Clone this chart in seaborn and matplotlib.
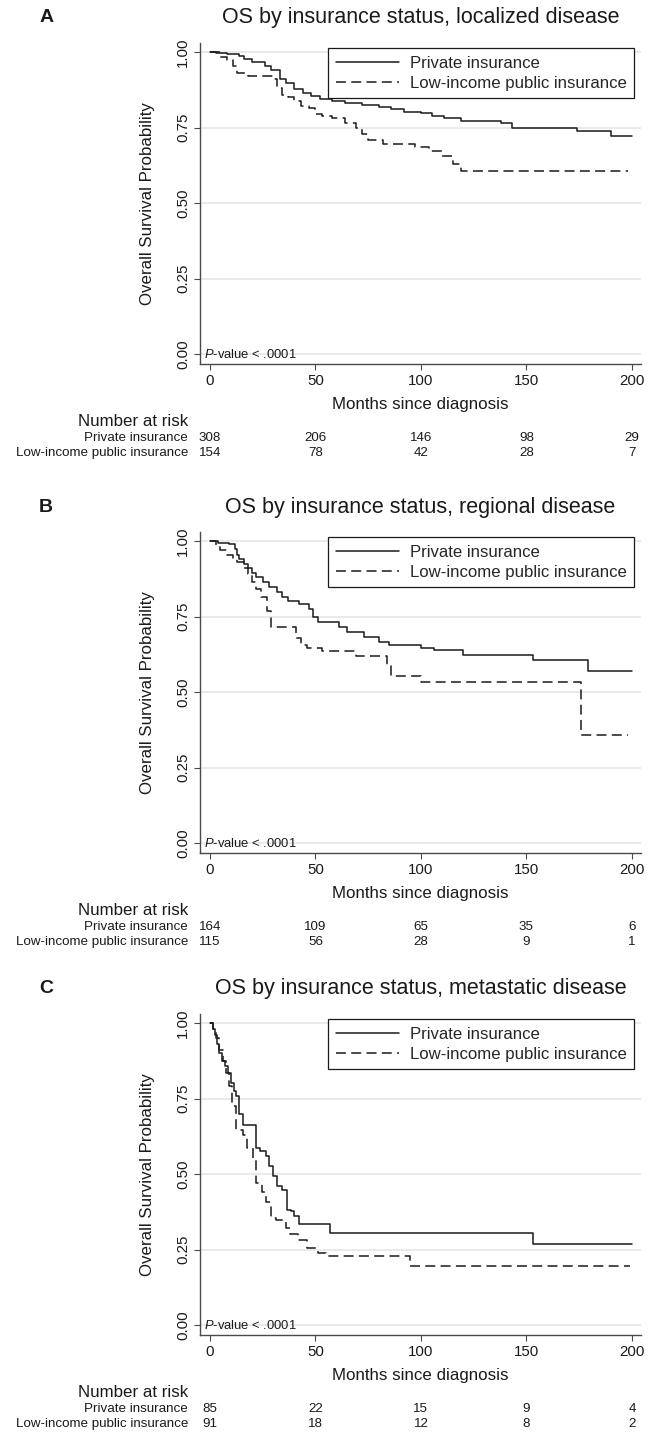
import numpy as np
import pandas as pd
import matplotlib.pyplot as plt
import seaborn as sns
from matplotlib.lines import Line2D
from matplotlib.transforms import blended_transform_factory

# ------------------------------------------------------------
# DATA
# ------------------------------------------------------------

GROUPS = ["Private insurance", "Low-income public insurance"]
PANELS = ["A", "B", "C"]
TITLES = [
    "OS by insurance status, localized disease",
    "OS by insurance status, regional disease",
    "OS by insurance status, metastatic disease",
]
RISK_MONTHS = [0, 50, 100, 150, 200]

# localized
a_priv_t = [0, 3, 8, 14, 16, 20, 26, 29, 33, 36, 40, 44, 48, 52, 58, 64, 72, 80, 86,
            92, 100, 105, 111, 119, 138, 143, 174, 190, 200]
a_priv_s = [1.0, 0.998, 0.993, 0.987, 0.976, 0.967, 0.955, 0.942, 0.912, 0.898, 0.878,
            0.864, 0.853, 0.843, 0.837, 0.831, 0.826, 0.817, 0.81, 0.802, 0.797, 0.788,
            0.781, 0.772, 0.766, 0.75, 0.738, 0.723, 0.723]
a_low_t = [0, 5, 8, 11, 13, 18, 30, 32, 34, 37, 40, 43, 47, 50, 53, 58, 64, 69, 72, 75,
           82, 97, 104, 110, 115, 119, 198]
a_low_s = [1.0, 0.985, 0.975, 0.955, 0.93, 0.922, 0.91, 0.88, 0.857, 0.85, 0.837, 0.822,
           0.814, 0.795, 0.787, 0.78, 0.765, 0.75, 0.727, 0.71, 0.697, 0.687, 0.673,
           0.655, 0.628, 0.605, 0.605]
a_risk_priv = [308, 206, 146, 98, 29]
a_risk_low = [154, 78, 42, 28, 7]

# regional
b_priv_t = [0, 4, 9, 12, 13, 14, 16, 18, 20, 22, 25, 28, 32, 34, 37, 42, 47, 49, 51,
            61, 65, 73, 80, 85, 100, 106, 120, 153, 179, 200]
b_priv_s = [1.0, 0.995, 0.99, 0.975, 0.955, 0.94, 0.925, 0.91, 0.895, 0.88, 0.865, 0.847,
            0.83, 0.814, 0.803, 0.792, 0.775, 0.75, 0.731, 0.715, 0.698, 0.682, 0.665,
            0.656, 0.645, 0.638, 0.624, 0.607, 0.569, 0.569]
b_low_t = [0, 3, 5, 8, 11, 13, 16, 18, 20, 22, 24, 27, 29, 41, 43, 46, 53, 69, 84, 86,
           100, 176, 198]
b_low_s = [1.0, 0.985, 0.97, 0.955, 0.94, 0.93, 0.91, 0.89, 0.865, 0.84, 0.814, 0.77,
           0.717, 0.68, 0.655, 0.646, 0.635, 0.62, 0.585, 0.553, 0.535, 0.359, 0.359]
b_risk_priv = [164, 109, 65, 35, 6]
b_risk_low = [115, 56, 28, 9, 1]

# metastatic
c_priv_t = [0, 1.5, 2.5, 3.5, 4.5, 5.5, 7, 8.5, 10, 11.5, 12.5, 14, 15.5, 22, 23.5, 26.5,
            28, 30, 32, 34, 36.5, 38.5, 40, 42, 57, 153, 200]
c_priv_s = [1.0, 0.98, 0.96, 0.93, 0.9, 0.875, 0.857, 0.835, 0.8, 0.775, 0.758, 0.7,
            0.664, 0.586, 0.575, 0.559, 0.525, 0.492, 0.459, 0.448, 0.382, 0.376, 0.36,
            0.335, 0.304, 0.269, 0.269]
c_low_t = [0, 1.5, 3, 4.5, 6, 7.5, 9, 10.5, 12.5, 15.5, 17.5, 20.5, 22, 24.5, 26.5, 29,
           31.5, 36, 38, 41.5, 46, 51, 55, 95, 199]
c_low_s = [1.0, 0.98, 0.95, 0.91, 0.875, 0.835, 0.79, 0.725, 0.647, 0.63, 0.586, 0.548,
           0.47, 0.442, 0.409, 0.354, 0.348, 0.32, 0.3, 0.282, 0.254, 0.238, 0.227,
           0.194, 0.194]
c_risk_priv = [85, 22, 15, 9, 4]
c_risk_low = [91, 18, 12, 8, 2]

curves = [
    (a_priv_t, a_priv_s, a_low_t, a_low_s, a_risk_priv, a_risk_low),
    (b_priv_t, b_priv_s, b_low_t, b_low_s, b_risk_priv, b_risk_low),
    (c_priv_t, c_priv_s, c_low_t, c_low_s, c_risk_priv, c_risk_low),
]

# ------------------------------------------------------------
# STYLE
# ------------------------------------------------------------

sns.set_style("ticks")
plt.rcParams["font.family"] = ["Liberation Sans", "DejaVu Sans"]
plt.rcParams["mathtext.fontset"] = "custom"
plt.rcParams["mathtext.it"] = "Liberation Sans:italic"
plt.rcParams["mathtext.rm"] = "Liberation Sans"

INK = "#1a1a1a"
AX_GRAY = "#4a4a4a"
DASH = (6.5, 3.5)

fig = plt.figure(figsize=(6.56, 14.33), dpi=100)

bottoms = [0.7460, 0.4047, 0.0684]

for i, (pt, ps, lt, ls, rp, rl) in enumerate(curves):
    ax = fig.add_axes([0.3049, bottoms[i], 0.6723, 0.2240])

    df = pd.concat([
        pd.DataFrame({"Group": GROUPS[0], "Month": pt, "Survival": ps}),
        pd.DataFrame({"Group": GROUPS[1], "Month": lt, "Survival": ls}),
    ])

    sns.lineplot(
        data=df, x="Month", y="Survival",
        style="Group", style_order=GROUPS,
        dashes=["", DASH],
        color=INK, linewidth=1.1,
        estimator=None, drawstyle="steps-post",
        legend=False, ax=ax,
    )

    ax.set_xlim(-4.7, 204.3)
    ax.set_ylim(-0.033, 1.03)
    ax.set_xticks(RISK_MONTHS)
    ax.set_yticks([0, 0.25, 0.5, 0.75, 1.0])
    ax.set_yticklabels(["0.00", "0.25", "0.50", "0.75", "1.00"])
    ax.tick_params(axis="y", labelrotation=90)
    ax.tick_params(length=4, width=0.8, color=AX_GRAY, labelsize=10.8,
                   labelcolor=INK, pad=3)
    for lab in ax.get_yticklabels():
        lab.set_va("center")

    ax.yaxis.grid(True, color="#e6e6e6", linewidth=1.2)
    ax.set_axisbelow(True)
    for side in ["top", "right"]:
        ax.spines[side].set_visible(False)
    for side in ["left", "bottom"]:
        ax.spines[side].set_color(AX_GRAY)
        ax.spines[side].set_linewidth(1.0)

    ax.set_xlabel("Months since diagnosis", fontsize=12.2, color=INK)
    ax.xaxis.set_label_coords(0.5, -0.125)
    ax.xaxis.label.set_va("center")
    ax.set_ylabel("Overall Survival Probability", fontsize=12.2, color=INK)
    ax.yaxis.set_label_coords(-0.12, 0.5)
    ax.yaxis.label.set_va("center")

    # title and panel letter
    ax.text(0.5, 1.078, TITLES[i], transform=ax.transAxes, ha="center",
            va="center", fontsize=15.5, color=INK)
    ax.text(-0.349, 1.078, PANELS[i], transform=ax.transAxes, ha="center",
            va="center", fontsize=14, fontweight="bold", color=INK)

    # legend
    handles = [Line2D([], [], color=INK, lw=1.1),
               Line2D([], [], color=INK, lw=1.1, dashes=DASH)]
    leg = ax.legend(handles, GROUPS, loc="upper right",
                    bbox_to_anchor=(0.984, 0.984), fontsize=12.1,
                    frameon=True, fancybox=False, handlelength=3.75,
                    handletextpad=0.65, labelspacing=0.3, borderpad=0.45,
                    borderaxespad=0)
    leg.get_frame().set_edgecolor(INK)
    leg.get_frame().set_linewidth(0.9)
    leg.get_frame().set_alpha(1)

    # p-value
    trans_p = blended_transform_factory(ax.transAxes, ax.transData)
    ax.text(0.009, 0, r"$\it{P}$-value < .0001", transform=trans_p,
            ha="left", va="center", fontsize=9.4, color=INK)

    # number at risk table
    trans_r = blended_transform_factory(ax.transData, ax.transAxes)
    ax.text(-0.027, -0.178, "Number at risk", transform=ax.transAxes,
            ha="right", va="center", fontsize=12.2, color=INK)
    for row_y, name, counts in [(-0.2305, GROUPS[0], rp), (-0.277, GROUPS[1], rl)]:
        ax.text(-0.027, row_y, name, transform=ax.transAxes, ha="right",
                va="center", fontsize=9.6, color=INK)
        for m, n in zip(RISK_MONTHS, counts):
            ax.text(m, row_y, str(n), transform=trans_r, ha="center",
                    va="center", fontsize=9.6, color=INK)

fig.savefig("out.png", dpi=100, facecolor="white")
